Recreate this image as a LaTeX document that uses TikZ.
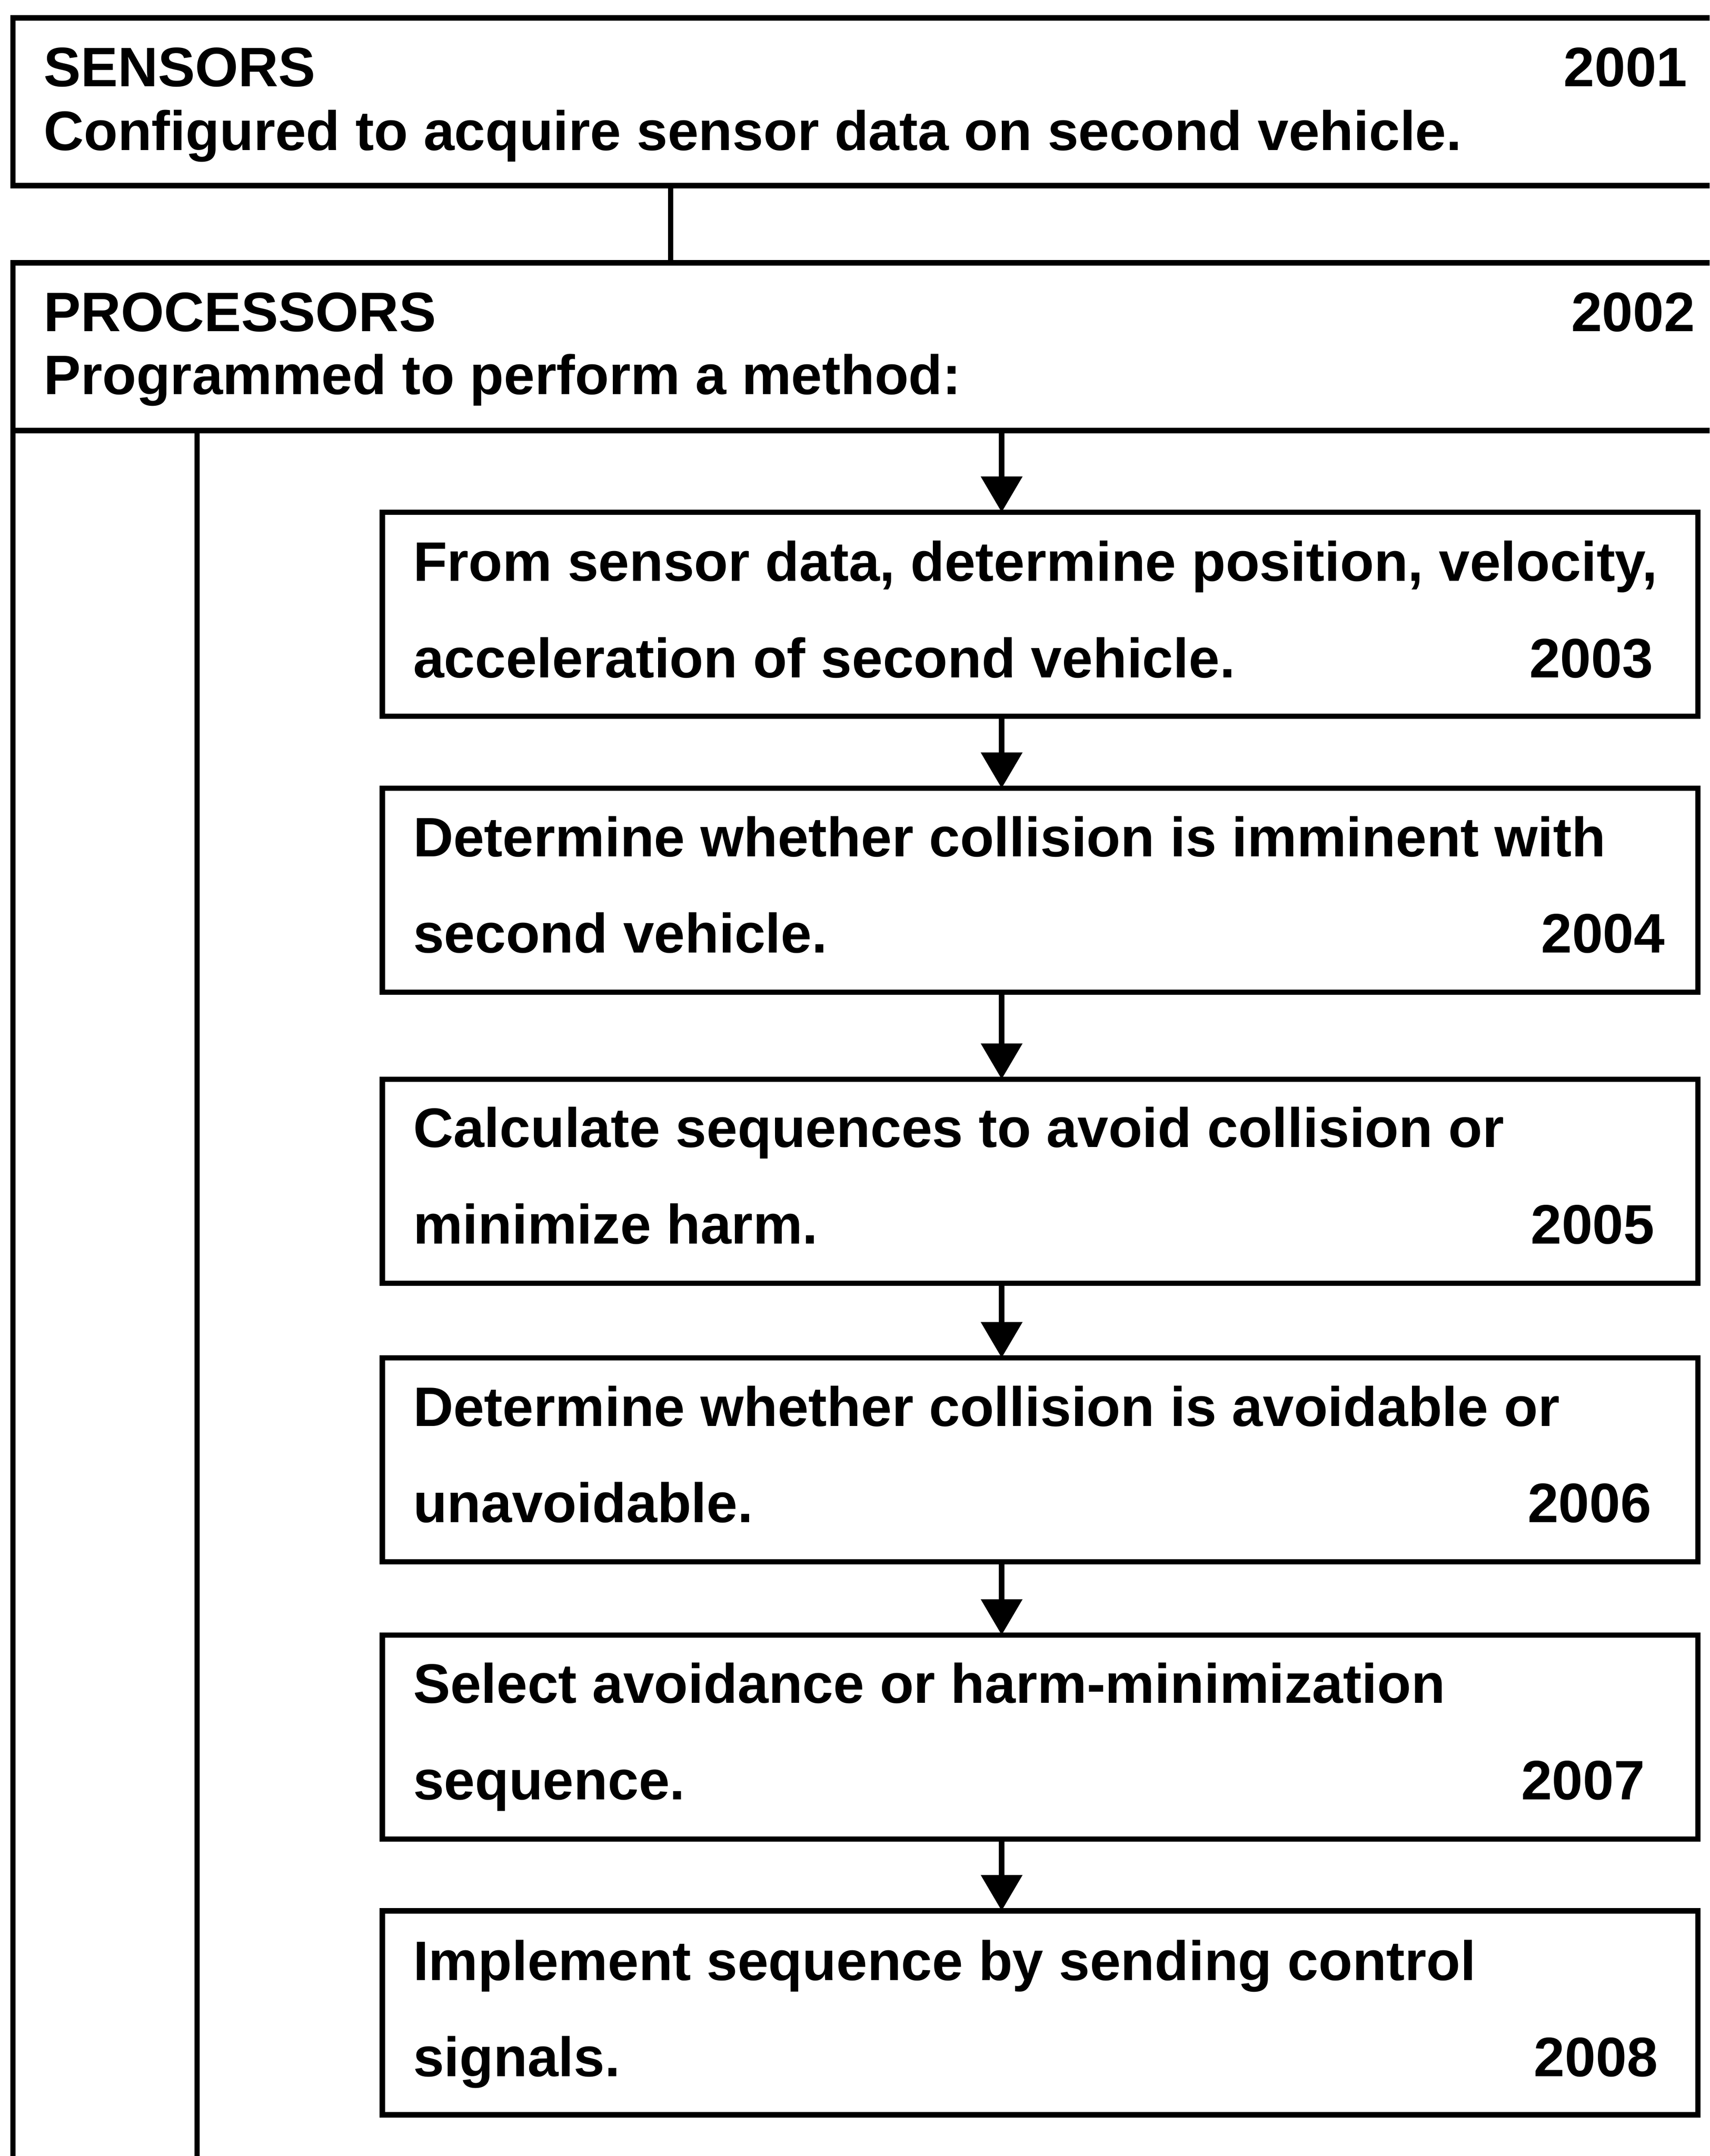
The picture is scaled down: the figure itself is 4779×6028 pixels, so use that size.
\documentclass[tikz,border=0pt]{standalone}
\usepackage{fontspec}
\setmainfont{Liberation Sans}
\usetikzlibrary{arrows.meta}
\begin{document}
\begin{tikzpicture}[x=0.01cm,y=-0.01cm,
  every node/.style={font=\bfseries\fontsize{44.2}{53}\selectfont, inner sep=0pt, outer sep=0pt},
  lw/.style={line width=0.15cm, line join=miter},
  stepbox/.style={draw, lw, minimum width=36.75cm, minimum height=5.70cm},
  txt/.style={anchor=base west},
  num/.style={anchor=base east},
  arr/.style={lw, -{Triangle[length=1.0cm,width=1.13cm]}}]
\useasboundingbox (0,0) rectangle (4779,6028);
\clip (0,0) rectangle (4779,6028);
% outer boxes
\draw[lw] (4900,50) -- (36,50) -- (36,519) -- (4900,519);
\draw[lw] (4900,735) -- (36,735) -- (36,6100);
\draw[lw] (36,1204) -- (4900,1204);
\coordinate (hdrL) at (551,1204);
\coordinate (hdrA) at (2800,1204);
\coordinate (ax) at (2800,0);
\draw[lw] (hdrL) -- (551,6100);
\coordinate (sensB) at (1875,519);
\coordinate (procT) at (1875,735);
\draw[lw] (sensB) -- (procT);
% header texts
\node[txt] (s1) at (122,242) {SENSORS};
\node[num] (s2) at (4717,242) {2001};
\node[txt] (s3) at (122,420) {Configured to acquire sensor data on second vehicle.};
\node[txt] (p1) at (122,926) {PROCESSORS};
\node[num] (p2) at (4738,926) {2002};
\node[txt] (p3) at (122,1103) {Programmed to perform a method:};
% step boxes
\node[stepbox] (b1) at (2907.5,1717.5) {};
\node[stepbox] (b2) at (2907.5,2489) {};
\node[stepbox] (b3) at (2907.5,3302.5) {};
\node[stepbox] (b4) at (2907.5,4081.5) {};
\node[stepbox] (b5) at (2907.5,4856.5) {};
\node[stepbox] (b6) at (2907.5,5627.5) {};
% texts
\node[txt] (t1a) at (1155,1625) {From sensor data, determine position, velocity,};
\node[txt] (t1b) at (1155,1894) {acceleration of second vehicle.};
\node[num] (n1) at (4621,1894) {2003};
\node[txt] (t2a) at (1155,2395) {Determine whether collision is imminent with};
\node[txt] (t2b) at (1155,2664) {second vehicle.};
\node[num] (n2) at (4654,2664) {2004};
\node[txt] (t3a) at (1155,3208) {Calculate sequences to avoid collision or};
\node[txt] (t3b) at (1155,3477) {minimize harm.};
\node[num] (n3) at (4625,3477) {2005};
\node[txt] (t4a) at (1155,3987) {Determine whether collision is avoidable or};
\node[txt] (t4b) at (1155,4256) {unavoidable.};
\node[num] (n4) at (4616,4256) {2006};
\node[txt] (t5a) at (1155,4762) {Select avoidance or harm-minimization};
\node[txt] (t5b) at (1155,5031) {sequence.};
\node[num] (n5) at (4598,5031) {2007};
\node[txt] (t6a) at (1155,5537) {Implement sequence by sending control};
\node[txt] (t6b) at (1155,5806) {signals.};
\node[num] (n6) at (4634,5806) {2008};
% arrows
\draw[arr] (hdrA) -- (b1.north -| ax);
\draw[arr] (b1.south -| ax) -- (b2.north -| ax);
\draw[arr] (b2.south -| ax) -- (b3.north -| ax);
\draw[arr] (b3.south -| ax) -- (b4.north -| ax);
\draw[arr] (b4.south -| ax) -- (b5.north -| ax);
\draw[arr] (b5.south -| ax) -- (b6.north -| ax);
\end{tikzpicture}
\end{document}
